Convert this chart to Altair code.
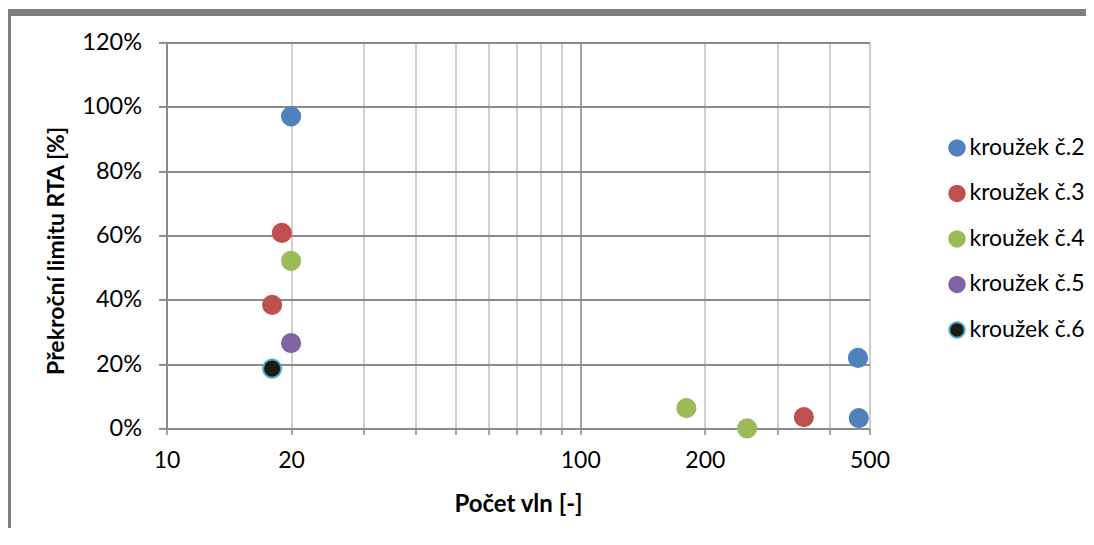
import altair as alt
import pandas as pd

series_names = ["kroužek č.2", "kroužek č.3", "kroužek č.4", "kroužek č.5", "kroužek č.6"]
series_colors = ["#4f81bd", "#c0504d", "#9bbb59", "#8064a2", "#1d1b14"]
series_strokes = ["#4f81bd", "#c0504d", "#9bbb59", "#8064a2", "#4bacc6"]

s2_x = [20, 469, 471]
s2_y = [0.97, 0.219, 0.032]
s3_x = [19.0, 18.0, 347]
s3_y = [0.608, 0.384, 0.035]
s4_x = [20, 180.5, 253]
s4_y = [0.521, 0.063, 0.0]
s5_x = [20]
s5_y = [0.265]
s6_x = [18.0]
s6_y = [0.186]

x_grid = [10, 20, 30, 40, 50, 60, 70, 80, 90, 100, 200, 300, 400, 500]
x_labels = [10, 20, 100, 200, 500]
y_ticks = [0, 0.2, 0.4, 0.6, 0.8, 1.0, 1.2]

rows = []
for name, xs, ys in zip(series_names,
                        [s2_x, s3_x, s4_x, s5_x, s6_x],
                        [s2_y, s3_y, s4_y, s5_y, s6_y]):
    for xv, yv in zip(xs, ys):
        rows.append({"serie": name, "x": xv, "y": yv})
df = pd.DataFrame(rows)

FONT = "Lato"
W, H = 703, 386

label_expr = "indexof([" + ",".join(str(v) for v in x_labels) + "], datum.value) >= 0 ? datum.label : ''"

legend_kw = dict(title=None, orient="none", legendX=779, legendY=94,
                 labelFont=FONT, labelFontSize=23, labelColor="#000000",
                 symbolType="circle", symbolSize=240, symbolStrokeWidth=2,
                 rowPadding=20.5, labelOffset=1, padding=0, labelLimit=0)

points = alt.Chart(df).mark_point(filled=True, shape="circle", size=330, strokeWidth=2, opacity=1).encode(
    x=alt.X("x:Q",
            scale=alt.Scale(type="log", domain=[10, 500], nice=False),
            axis=alt.Axis(values=x_grid, format="d", labelExpr=label_expr,
                          title="Počet vln [-]",
                          titleFont=FONT, titleFontSize=24, titleFontWeight="bold", titleColor="#000000",
                          titleX=W / 2, titleY=83, titleBaseline="alphabetic", titleAlign="center",
                          labelFont=FONT, labelFontSize=23, labelColor="#000000", labelPadding=15,
                          labelFlush=False, labelOverlap=False,
                          tickSize=6, tickColor="#8a8a8a", tickWidth=1.5,
                          domainColor="#8a8a8a", domainWidth=2,
                          grid=True,
                          gridColor={"condition": {"test": "datum.value == 100", "value": "#8a8a8a"},
                                     "value": "#c4c4c4"},
                          gridWidth=1.6)),
    y=alt.Y("y:Q",
            scale=alt.Scale(domain=[0, 1.2], nice=False),
            axis=alt.Axis(values=y_ticks, format=".0%",
                          title="Překroční limitu RTA [%]",
                          titleFont=FONT, titleFontSize=23, titleFontWeight="bold", titleColor="#000000",
                          titleX=-103, titleY=208, titleAngle=270, titleBaseline="alphabetic", titleAlign="center",
                          labelFont=FONT, labelFontSize=23.5, labelColor="#000000", labelPadding=17,
                          tickSize=8, tickColor="#8a8a8a", tickWidth=2,
                          domainColor="#8a8a8a", domainWidth=2,
                          grid=True, gridColor="#8a8a8a", gridWidth=2)),
    fill=alt.Fill("serie:N", scale=alt.Scale(domain=series_names, range=series_colors),
                  legend=alt.Legend(**legend_kw)),
    stroke=alt.Stroke("serie:N", scale=alt.Scale(domain=series_names, range=series_strokes),
                      legend=alt.Legend(**legend_kw)),
)

frame = alt.Chart(alt.Data(values=[{}])).mark_rect(
    fillOpacity=0, stroke="#7f7f7f", strokeWidth=7
).encode(
    x=alt.value(-159), x2=alt.value(930),
    y=alt.value(-30), y2=alt.value(520),
)

chart = alt.layer(frame, points).properties(
    width=W, height=H,
    autosize=alt.AutoSizeParams(type="none"),
    padding={"left": 158.5, "top": 34.4, "right": 216, "bottom": 100},
).configure_view(stroke=None).configure(background="#ffffff")

chart.save("out.html", embed_options={"renderer": "svg", "actions": False})
